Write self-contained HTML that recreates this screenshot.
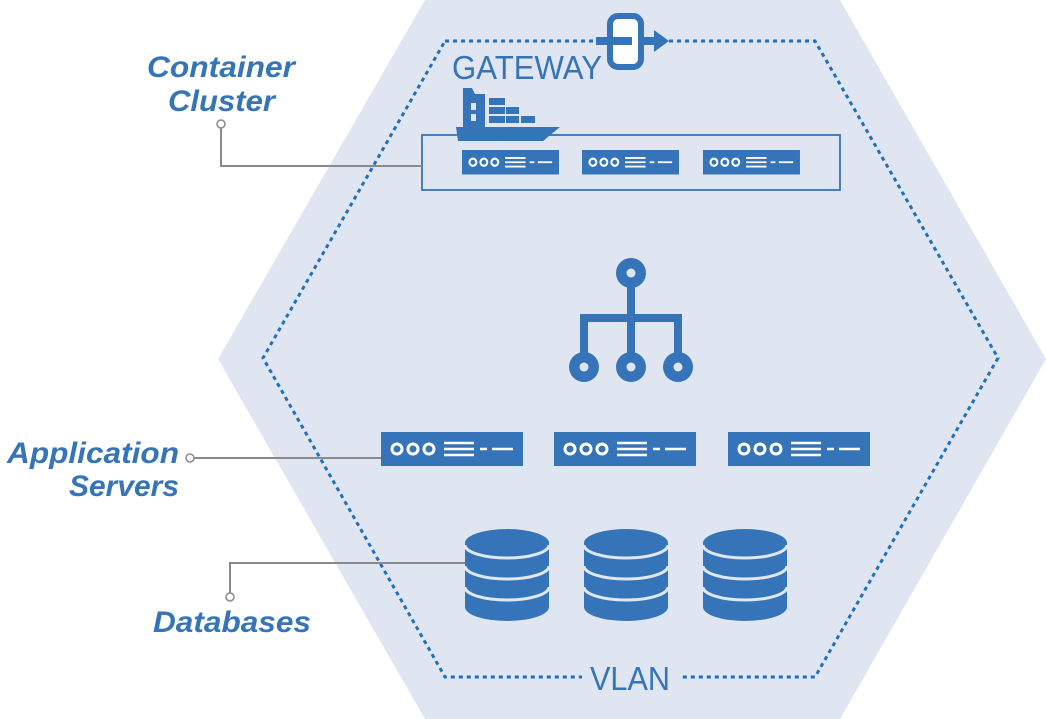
<!DOCTYPE html>
<html><head><meta charset="utf-8"><style>
html,body{margin:0;padding:0;background:#fff}
svg{display:block}
.lbl{font-family:"Liberation Sans",sans-serif;font-style:italic;font-weight:bold;fill:#3574b8;font-size:30px}
.cap{font-family:"Liberation Sans",sans-serif;fill:#3574b8;font-size:33px}
</style></head><body>
<svg width="1046" height="719" viewBox="0 0 1046 719" xmlns="http://www.w3.org/2000/svg">
<defs>
<g id="srv">
<rect x="0" y="0" width="142" height="34" fill="#3574b8"/>
<g fill="none" stroke="#fff" stroke-width="3">
<circle cx="16" cy="17" r="5"/><circle cx="32" cy="17" r="5"/><circle cx="48" cy="17" r="5"/>
</g>
<g stroke="#fff" stroke-width="2.5">
<line x1="63" y1="11" x2="93" y2="11"/><line x1="63" y1="17" x2="93" y2="17"/><line x1="63" y1="23" x2="93" y2="23"/>
<line x1="99" y1="17" x2="106" y2="17"/><line x1="111" y1="17" x2="132" y2="17"/>
</g>
</g>
<g id="db">
<path d="M-42,14 L-42,78 A42,14 0 0 0 42,78 L42,14 A42,14 0 0 0 -42,14 Z" fill="#3574b8"/>
<g fill="none" stroke="#e0e7f2" stroke-width="3">
<path d="M-42,16 A42,13 0 0 0 42,16"/>
<path d="M-42,37 A42,13 0 0 0 42,37"/>
<path d="M-42,58 A42,13 0 0 0 42,58"/>
</g>
</g>
</defs>
<polygon points="425,0 840,0 1046,359 840,719 425,719 218,359" fill="#dfe6f1"/>
<polygon points="445,41 815,41 998,358 815,677 445,677 263,358" fill="none" stroke="#1f6fbf" stroke-width="3" stroke-dasharray="4 4"/>
<rect x="582" y="660" width="98" height="36" fill="#dfe6f1"/>
<text x="590" y="690" class="cap" textLength="80" lengthAdjust="spacingAndGlyphs">VLAN</text>
<text x="452" y="79" class="cap" textLength="150" lengthAdjust="spacingAndGlyphs">GATEWAY</text>
<!-- gateway icon -->
<rect x="596" y="37" width="60" height="8" fill="#3574b8"/>
<polygon points="654,30 669,41 654,52" fill="#3574b8"/>
<rect x="610" y="16" width="31" height="51" rx="8" fill="#fff" stroke="#3574b8" stroke-width="6"/>
<rect x="610" y="37" width="22" height="8" fill="#3574b8"/>
<!-- ship -->
<g fill="#3574b8">
<polygon points="463,88 472,88 475,94 485,94 485,128 463,128"/>
<rect x="489" y="98" width="16" height="7"/>
<rect x="489" y="107" width="16" height="7"/><rect x="506" y="107" width="13" height="7"/>
<rect x="489" y="116" width="16" height="7"/><rect x="506" y="116" width="13" height="7"/><rect x="521" y="116" width="14" height="7"/>
<polygon points="456,127 560,127 543,141 458,141"/>
</g>
<g fill="#dfe6f1"><rect x="471" y="103" width="5" height="7"/><rect x="471" y="114" width="5" height="7"/></g>
<rect x="422" y="135" width="418" height="55" fill="none" stroke="#3574b8" stroke-width="1.8"/>
<g transform="translate(462,150) scale(0.683,0.72)"><use href="#srv"/></g>
<g transform="translate(582,150) scale(0.683,0.72)"><use href="#srv"/></g>
<g transform="translate(703,150) scale(0.683,0.72)"><use href="#srv"/></g>
<!-- network icon -->
<g stroke="#3574b8" stroke-width="8" fill="none">
<line x1="631" y1="285" x2="631" y2="355"/>
<polyline points="584,355 584,318 678,318 678,355"/>
</g>
<g fill="#3574b8"><circle cx="631" cy="273" r="15"/><circle cx="584" cy="367" r="15"/><circle cx="631" cy="367" r="15"/><circle cx="678" cy="367" r="15"/></g>
<g fill="#dfe6f1"><circle cx="631" cy="273" r="4.5"/><circle cx="584" cy="367" r="4.5"/><circle cx="631" cy="367" r="4.5"/><circle cx="678" cy="367" r="4.5"/></g>
<use href="#srv" x="381" y="432"/>
<use href="#srv" x="554" y="432"/>
<use href="#srv" x="728" y="432"/>
<use href="#db" x="507" y="529"/>
<use href="#db" x="626" y="529"/>
<use href="#db" x="745" y="529"/>
<!-- leaders -->
<g stroke="#8a8a8a" stroke-width="2" fill="none">
<polyline points="221,128 221,166 422,166"/>
<line x1="194" y1="458" x2="381" y2="458"/>
<polyline points="230,593 230,563 465,563"/>
</g>
<g fill="#fff" stroke="#8a8a8a" stroke-width="1.5">
<circle cx="221" cy="124" r="4"/><circle cx="190" cy="458" r="4"/><circle cx="230" cy="597" r="4"/>
</g>
<text x="147" y="77" class="lbl" textLength="148" lengthAdjust="spacingAndGlyphs">Container</text>
<text x="168" y="111" class="lbl" textLength="107" lengthAdjust="spacingAndGlyphs">Cluster</text>
<text x="7" y="463" class="lbl" textLength="172" lengthAdjust="spacingAndGlyphs">Application</text>
<text x="69" y="496" class="lbl" textLength="110" lengthAdjust="spacingAndGlyphs">Servers</text>
<text x="153" y="632" class="lbl" textLength="158" lengthAdjust="spacingAndGlyphs">Databases</text>
</svg>
</body></html>
